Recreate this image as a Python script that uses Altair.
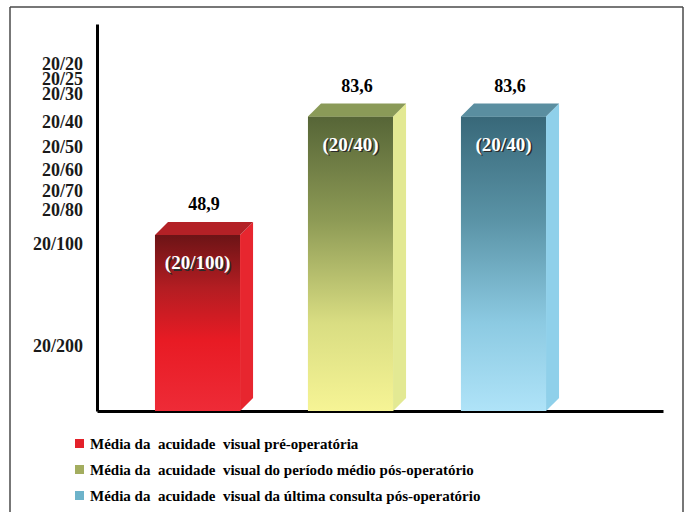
import altair as alt
import pandas as pd

# ---------------- data ----------------
series = [
    "Média da\u00a0 acuidade\u00a0 visual pré-operatória",
    "Média da\u00a0 acuidade\u00a0 visual do período médio pós-operatório",
    "Média da\u00a0 acuidade\u00a0 visual da última consulta pós-operatório",
]
values = [48.9, 83.6, 83.6]
bar_snellen = ["(20/100)", "(20/40)", "(20/40)"]
tick_snellen = ["20/20", "20/25", "20/30", "20/40", "20/50",
                "20/60", "20/70", "20/80", "20/100", "20/200"]
tick_percent = [100, 95.7, 91.5, 83.6, 76.5, 69.9, 64.0, 58.5, 48.9, 20.0]

# ---------------- styles / geometry ----------------
W, H = 566, 387
X_DOMAIN = [-0.657, 3.0425]
Y_DOMAIN = [-2.635, 110.69]
LABEL_Y_DOMAIN = [2.04, 111.45]
HALF_W = 0.278
DX = 0.085
DY = 3.81
FONT = "Liberation Serif"

front_stops = [
    [(0, "#6c1416"), (0.3, "#b31d22"), (0.6, "#e81b24"), (1, "#ee2b37")],
    [(0, "#566537"), (0.35, "#8d9a55"), (0.7, "#d9dd82"), (1, "#f6f495")],
    [(0, "#386879"), (0.35, "#5a93a6"), (0.7, "#8ccae2"), (1, "#afe3f8")],
]
side_colors = ["#e7262f", "#e3e993", "#8fd0ea"]
top_colors = ["#b32126", "#8a9a58", "#5a8ea0"]
legend_colors = ["#e3212a", "#a3ad5f", "#6db3ca"]


def grad(stops):
    return alt.Gradient(
        gradient="linear",
        stops=[alt.GradientStop(offset=o, color=c) for o, c in stops],
        x1=0, x2=0, y1=0, y2=1,
    )


xs = alt.Scale(domain=X_DOMAIN, nice=False, zero=False)
ys = alt.Scale(domain=Y_DOMAIN, nice=False, zero=False)
x_axis = alt.Axis(title=None, labels=False, ticks=False, grid=False,
                  domainColor="black", domainWidth=3)
y_axis = alt.Axis(title=None, labels=False, ticks=False, grid=False,
                  domainColor="black", domainWidth=3)

base_y = Y_DOMAIN[0]
front = pd.DataFrame({
    "serie": series,
    "v": values,
    "xl": [i - HALF_W for i in range(len(values))],
    "xr": [i + HALF_W for i in range(len(values))],
    "base": [base_y] * len(values),
    "xc": [i for i in range(len(values))],
    "xt": [i + DX / 2 for i in range(len(values))],
    "vlabel": [f"{v:.1f}".replace(".", ",") for v in values],
    "snellen": bar_snellen,
})

layers = []

# outer frame (decoration)
one = pd.DataFrame({"f": [0]})
frame_style = dict(color="#4a4a4a", strokeWidth=1.5)
layers.append(alt.Chart(one).mark_rule(**frame_style).encode(
    x=alt.value(-87), x2=alt.value(586), y=alt.value(-17)))
layers.append(alt.Chart(one).mark_rule(**frame_style).encode(
    x=alt.value(-87), y=alt.value(-17), y2=alt.value(520)))
layers.append(alt.Chart(one).mark_rule(**frame_style).encode(
    x=alt.value(586), y=alt.value(-17), y2=alt.value(520)))
# mask the light border of the plot cell (top and right edges)
mask_style = dict(color="white", strokeWidth=3)
layers.append(alt.Chart(one).mark_rule(**mask_style).encode(
    x=alt.value(2), x2=alt.value(W + 2), y=alt.value(0)))
layers.append(alt.Chart(one).mark_rule(**mask_style).encode(
    x=alt.value(W), y=alt.value(-2), y2=alt.value(H - 2)))

# solid front faces (carry legend + axes)
layers.append(
    alt.Chart(front).mark_rect().encode(
        x=alt.X("xl:Q", scale=xs, axis=x_axis),
        x2="xr:Q",
        y=alt.Y("v:Q", scale=ys, axis=y_axis),
        y2="base:Q",
        color=alt.Color(
            "serie:N",
            scale=alt.Scale(domain=series, range=legend_colors),
            legend=alt.Legend(
                title=None, orient="none", legendX=-25, legendY=412,
                symbolType="square", symbolSize=81, symbolStrokeWidth=0,
                labelFont=FONT, labelFontWeight="bold", labelFontSize=15,
                labelColor="black", labelLimit=700, rowPadding=10,
                labelOffset=3, padding=0,
            ),
        ),
    )
)

for i, v in enumerate(values):
    xl, xr = i - HALF_W, i + HALF_W
    fdf = front.iloc[[i]]
    layers.append(
        alt.Chart(fdf).mark_rect(fill=grad(front_stops[i])).encode(
            x=alt.X("xl:Q", scale=xs, axis=x_axis), x2="xr:Q",
            y=alt.Y("v:Q", scale=ys, axis=y_axis), y2="base:Q",
        )
    )
    side = pd.DataFrame({
        "x": [xr, xr + DX],
        "y": [v, v + DY],
        "y2": [base_y, base_y + DY],
    })
    layers.append(
        alt.Chart(side).mark_area(color=side_colors[i], line=False).encode(
            x=alt.X("x:Q", scale=xs, axis=x_axis),
            y=alt.Y("y:Q", scale=ys, axis=y_axis), y2="y2:Q",
        )
    )
    top = pd.DataFrame({
        "x": [xl, xl + DX, xr, xr + DX],
        "y": [v, v, v, v + DY],
        "y2": [v, v + DY, v + DY, v + DY],
    })
    layers.append(
        alt.Chart(top).mark_area(color=top_colors[i], line=False).encode(
            x=alt.X("x:Q", scale=xs, axis=x_axis),
            y=alt.Y("y:Q", scale=ys, axis=y_axis), y2="y2:Q",
        )
    )

# value labels above bars
layers.append(
    alt.Chart(front).mark_text(
        font=FONT, fontWeight="bold", fontSize=18, color="black",
        baseline="middle", align="center", dy=-30,
    ).encode(
        x=alt.X("xt:Q", scale=xs, axis=x_axis),
        y=alt.Y("v:Q", scale=ys, axis=y_axis),
        text="vlabel:N",
    )
)
# snellen labels inside bars (shadow + white)
layers.append(
    alt.Chart(front).mark_text(
        font=FONT, fontWeight="bold", fontSize=19, color="#2a2a2a",
        baseline="middle", align="center", dy=29.5, dx=1.5,
    ).encode(
        x=alt.X("xc:Q", scale=xs, axis=x_axis),
        y=alt.Y("v:Q", scale=ys, axis=y_axis),
        text="snellen:N",
    )
)
layers.append(
    alt.Chart(front).mark_text(
        font=FONT, fontWeight="bold", fontSize=19, color="white",
        baseline="middle", align="center", dy=28,
    ).encode(
        x=alt.X("xc:Q", scale=xs, axis=x_axis),
        y=alt.Y("v:Q", scale=ys, axis=y_axis),
        text="snellen:N",
    )
)

bars = alt.layer(*layers)

ticks = pd.DataFrame({"p": tick_percent, "lab": tick_snellen})
tick_layer = alt.Chart(ticks).mark_text(
    font=FONT, fontWeight="bold", fontSize=18, color="#1a1a1a",
    baseline="middle", align="right",
).encode(
    x=alt.value(-14),
    y=alt.Y("p:Q", scale=alt.Scale(domain=LABEL_Y_DOMAIN, nice=False, zero=False),
            axis=None),
    text="lab:N",
)

chart = alt.layer(bars, tick_layer).resolve_scale(y="independent").properties(
    width=W, height=H,
    background="white",
    autosize=alt.AutoSizeParams(type="none"),
    padding={"left": 97, "top": 24, "right": 24, "bottom": 101},
).configure(
    view=alt.ViewConfig(stroke="transparent", strokeWidth=0),
    style={"cell": {"stroke": "transparent", "strokeWidth": 0}},
    axisTop=alt.AxisConfig(domain=False, ticks=False, labels=False, grid=False),
    axisRight=alt.AxisConfig(domain=False, ticks=False, labels=False, grid=False),
)

chart.save("out.html", embed_options={"renderer": "svg", "actions": False})
